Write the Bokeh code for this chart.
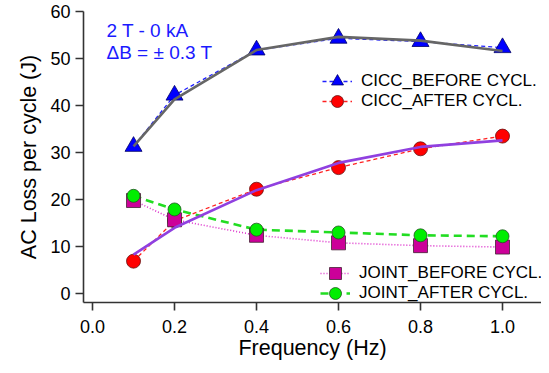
from bokeh.plotting import figure
from bokeh.models import (Range1d, FixedTicker, PrintfTickFormatter, Legend, LegendItem, Label)
from bokeh.embed import file_html
from bokeh.resources import INLINE

freq = [0.1, 0.2, 0.4, 0.6, 0.8, 1.0]
cicc_before = [31.3, 42.2, 51.8, 54.3, 53.6, 52.3]
cicc_after = [6.9, 15.5, 22.2, 26.8, 30.8, 33.5]
joint_before = [19.8, 15.7, 12.4, 10.8, 10.2, 9.9]
joint_after = [20.8, 17.9, 13.6, 13.0, 12.4, 12.2]
cicc_before_fit = [31.3, 41.3, 51.8, 54.6, 53.8, 51.6]
cicc_after_fit = [8.3, 14.0, 22.0, 27.8, 31.2, 32.6]

x_ticks = [0.0, 0.2, 0.4, 0.6, 0.8, 1.0]
y_ticks = [0, 10, 20, 30, 40, 50, 60]

FONT = "Liberation Sans"

p = figure(width=541, height=365, output_backend="svg", toolbar_location=None,
           x_range=Range1d(-0.022, 1.0951), y_range=Range1d(-1.89, 60.0),
           min_border_left=83, min_border_right=0, min_border_top=11, min_border_bottom=63)
p.outline_line_color = None
p.grid.visible = False
p.background_fill_color = "white"

for ax in (p.xaxis[0], p.yaxis[0]):
    ax.axis_line_color = "#333333"
    ax.axis_line_width = 1.6
    ax.major_tick_line_color = "#333333"
    ax.major_tick_line_width = 1.6
    ax.major_tick_out = 8
    ax.major_tick_in = 0
    ax.minor_tick_line_color = None
    ax.major_label_text_font = FONT
    ax.major_label_text_font_size = "18px"
    ax.major_label_text_color = "black"
    ax.axis_label_text_font = FONT
    ax.axis_label_text_font_size = "21.5px"
    ax.axis_label_text_font_style = "normal"
    ax.axis_label_text_color = "black"

p.xaxis.ticker = FixedTicker(ticks=x_ticks)
p.yaxis.ticker = FixedTicker(ticks=y_ticks)
p.xaxis.formatter = PrintfTickFormatter(format="%.1f")
p.xaxis.axis_label = "Frequency (Hz)"
p.yaxis.axis_label = "AC Loss per cycle (J)"
p.xaxis.major_label_standoff = 9
p.yaxis.major_label_standoff = 5
p.xaxis.axis_label_standoff = 0
p.yaxis.axis_label_standoff = 6

# CICC before
l1 = p.line(freq, cicc_before, line_color="#2020ff", line_width=1.3, line_dash="4 3")
# CICC after
l2 = p.line(freq, cicc_after, line_color="#ff2020", line_width=1.3, line_dash="4 3")
# joint before
l3 = p.line(freq, joint_before, line_color="#dd33cc", line_width=1.6, line_dash="1 2")
# joint after
l4 = p.line(freq, joint_after, line_color="#22dd22", line_width=2.6, line_dash="8 5")

m2 = p.scatter(freq, cicc_after, marker="circle", size=14, fill_color="#ff0000",
               line_color="#661111", line_width=0.8)
m1 = p.scatter(freq, cicc_before, marker="triangle", size=17, fill_color="#0000ff",
               line_color="#000066", line_width=0.8)
m3 = p.scatter(freq, joint_before, marker="square", size=14, fill_color="#cc0099",
               line_color="#442233", line_width=0.8)
m4 = p.scatter(freq, joint_after, marker="circle", size=13, fill_color="#00ee00",
               line_color="#225522", line_width=0.8)

# fit curves
p.line(freq, cicc_before_fit, line_color="#666666", line_width=2.6)
p.line(freq, cicc_after_fit, line_color="#9040e0", line_width=2.6)

def make_legend(label, renderers, loc):
    lg = Legend(items=[LegendItem(label=label, renderers=renderers)], location=loc,
                orientation="vertical",
                border_line_color=None, background_fill_alpha=0,
                padding=0, margin=0, spacing=0,
                glyph_width=30, glyph_height=40, label_height=20,
                label_standoff=9,
                label_text_font=FONT, label_text_font_size="17px",
                label_text_color="black")
    p.add_layout(lg, "center")

make_legend("CICC_BEFORE CYCL.", [l1, m1], (239, 201))
make_legend("CICC_AFTER CYCL.", [l2, m2], (239, 181))
make_legend("JOINT_BEFORE CYCL.", [l3, m3], (237, 9))
make_legend("JOINT_AFTER CYCL.", [l4, m4], (237, -11))

for txt, yv in (("2 T - 0 kA", 55.95), ("\u0394B = \u00b1 0.3 T", 51.25)):
    p.add_layout(Label(x=0.034, y=yv, text=txt, text_font=FONT, text_font_size="19px",
                       text_color="#1a1aff", text_baseline="alphabetic"))

open("out.html", "w").write(file_html(p, INLINE))
